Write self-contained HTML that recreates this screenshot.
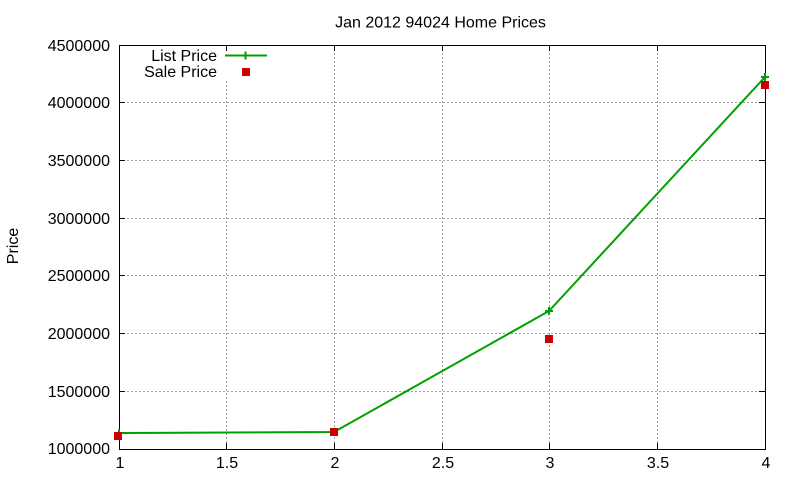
<!DOCTYPE html>
<html>
<head>
<meta charset="utf-8">
<style>
  html, body { margin: 0; padding: 0; background: #ffffff; }
  svg { display: block; }
  text { font-family: "Liberation Sans", Arial, sans-serif; font-size: 16px; fill: #000; }
</style>
</head>
<body>
<svg width="800" height="480" viewBox="0 0 800 480" xmlns="http://www.w3.org/2000/svg">
  <rect x="0" y="0" width="800" height="480" fill="#ffffff"/>

  <!-- grid -->
  <g stroke="#a0a0a0" stroke-width="1" stroke-dasharray="2,2" fill="none">
    <!-- horizontal -->
    <line x1="119" y1="102.5" x2="765" y2="102.5"/>
    <line x1="119" y1="160.5" x2="765" y2="160.5"/>
    <line x1="119" y1="218.5" x2="765" y2="218.5"/>
    <line x1="119" y1="275.5" x2="765" y2="275.5"/>
    <line x1="119" y1="333.5" x2="765" y2="333.5"/>
    <line x1="119" y1="391.5" x2="765" y2="391.5"/>
    <!-- vertical -->
    <line x1="226.5" y1="45" x2="226.5" y2="449"/>
    <line x1="334.5" y1="45" x2="334.5" y2="449"/>
    <line x1="442.5" y1="45" x2="442.5" y2="449"/>
    <line x1="549.5" y1="45" x2="549.5" y2="449"/>
    <line x1="657.5" y1="45" x2="657.5" y2="449"/>
  </g>

  <!-- legend background (hides grid) -->
  <rect x="130" y="46" width="140" height="33" fill="#ffffff"/>

  <!-- ticks -->
  <g stroke="#000" stroke-width="1">
    <line x1="119" y1="102.5" x2="125" y2="102.5"/>
    <line x1="119" y1="160.5" x2="125" y2="160.5"/>
    <line x1="119" y1="218.5" x2="125" y2="218.5"/>
    <line x1="119" y1="275.5" x2="125" y2="275.5"/>
    <line x1="119" y1="333.5" x2="125" y2="333.5"/>
    <line x1="119" y1="391.5" x2="125" y2="391.5"/>
    <line x1="759" y1="102.5" x2="765" y2="102.5"/>
    <line x1="759" y1="160.5" x2="765" y2="160.5"/>
    <line x1="759" y1="218.5" x2="765" y2="218.5"/>
    <line x1="759" y1="275.5" x2="765" y2="275.5"/>
    <line x1="759" y1="333.5" x2="765" y2="333.5"/>
    <line x1="759" y1="391.5" x2="765" y2="391.5"/>
    <line x1="226.5" y1="45" x2="226.5" y2="51"/>
    <line x1="334.5" y1="45" x2="334.5" y2="51"/>
    <line x1="442.5" y1="45" x2="442.5" y2="51"/>
    <line x1="549.5" y1="45" x2="549.5" y2="51"/>
    <line x1="657.5" y1="45" x2="657.5" y2="51"/>
    <line x1="226.5" y1="443" x2="226.5" y2="449"/>
    <line x1="334.5" y1="443" x2="334.5" y2="449"/>
    <line x1="442.5" y1="443" x2="442.5" y2="449"/>
    <line x1="549.5" y1="443" x2="549.5" y2="449"/>
    <line x1="657.5" y1="443" x2="657.5" y2="449"/>
  </g>

  <!-- plot border -->
  <rect x="119.5" y="45.5" width="646" height="404" fill="none" stroke="#000" stroke-width="1"/>

  <!-- y tick labels -->
  <g text-anchor="end">
    <text x="110" y="51">4500000</text>
    <text x="110" y="108">4000000</text>
    <text x="110" y="166">3500000</text>
    <text x="110" y="224">3000000</text>
    <text x="110" y="281">2500000</text>
    <text x="110" y="339">2000000</text>
    <text x="110" y="397">1500000</text>
    <text x="110" y="454">1000000</text>
  </g>

  <!-- x tick labels -->
  <g text-anchor="middle">
    <text x="120" y="468">1</text>
    <text x="227" y="468">1.5</text>
    <text x="335" y="468">2</text>
    <text x="443" y="468">2.5</text>
    <text x="550" y="468">3</text>
    <text x="658" y="468">3.5</text>
    <text x="766" y="468">4</text>
  </g>

  <!-- title -->
  <text x="440.5" y="27.5" text-anchor="middle">Jan 2012 94024 Home Prices</text>

  <!-- y axis label -->
  <text x="18" y="246" text-anchor="middle" transform="rotate(-90 18 246)">Price</text>

  <!-- legend -->
  <text x="217" y="61" text-anchor="end">List Price</text>
  <text x="217" y="77" text-anchor="end">Sale Price</text>
  <line x1="225" y1="55.5" x2="267" y2="55.5" stroke="#00a000" stroke-width="2"/>
  <path d="M241.5 55.5 H249.5 M245.5 51.5 V59.5" stroke="#00a000" stroke-width="2" fill="none"/>
  <rect x="242" y="68" width="8" height="8" fill="#cc0000"/>

  <!-- List price series -->
  <polyline points="119,433 334,432 549,311 765,77" fill="none" stroke="#00a000" stroke-width="2"/>
  <g stroke="#00a000" stroke-width="2" fill="none">
    <path d="M115 433 H123 M119 429 V437"/>
    <path d="M330 432 H338 M334 428 V436"/>
    <path d="M545 311 H553 M549 307 V315"/>
    <path d="M761 77 H769 M765 73 V81"/>
  </g>

  <!-- Sale price series -->
  <g fill="#cc0000">
    <rect x="114" y="432" width="8" height="8"/>
    <rect x="330" y="428" width="8" height="8"/>
    <rect x="545" y="335" width="8" height="8"/>
    <rect x="761" y="81" width="8" height="8"/>
  </g>
</svg>
</body>
</html>
